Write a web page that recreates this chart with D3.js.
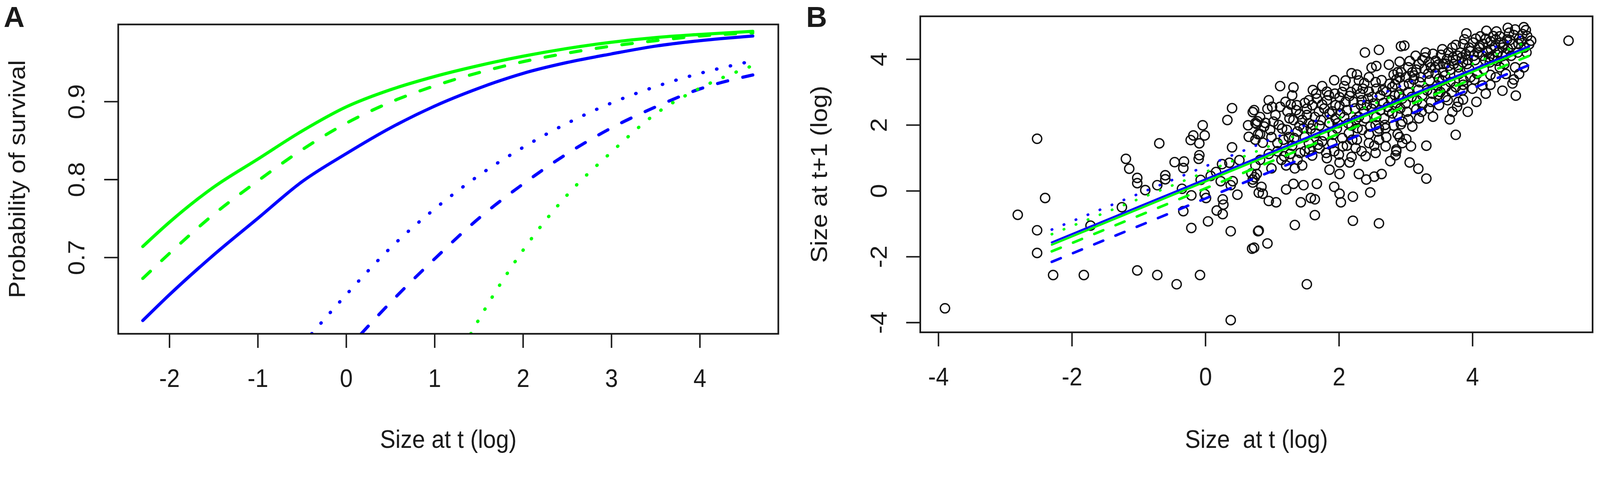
<!DOCTYPE html>
<html>
<head>
<meta charset="utf-8">
<script src="https://cdn.jsdelivr.net/npm/d3@7"></script>
<style>
  html, body { margin: 0; padding: 0; background: #fff; overflow: hidden; }
  svg { display: block; background: #fff; width: 100vw; height: auto; }
  text { font-family: "Liberation Sans", Arial, sans-serif; fill: #1a1a1a; }
</style>
</head>
<body>
<div id="chart"></div>
<script>
(function(){
  'use strict';

  // panel A: probability of survival vs size at t (log)
  var survGreenSolid = [[-2.3,0.714],[-2,0.745],[-1.5,0.790],[-1,0.826],[-0.5,0.862],[0,0.893],[0.5,0.915],[1,0.932],[1.5,0.946],[2,0.958],[2.5,0.968],[3,0.976],[3.5,0.982],[4,0.986],[4.6,0.990]];
  var survGreenDashed = [[-2.3,0.673],[-2,0.705],[-1.5,0.755],[-1,0.798],[-0.5,0.838],[0,0.872],[0.5,0.899],[1,0.920],[1.5,0.937],[2,0.951],[2.5,0.962],[3,0.971],[3.5,0.978],[4,0.984],[4.6,0.988]];
  var survBlueSolid = [[-2.3,0.619],[-2,0.652],[-1.5,0.703],[-1,0.750],[-0.5,0.797],[0,0.833],[0.5,0.866],[1,0.894],[1.5,0.917],[2,0.936],[2.5,0.950],[3,0.961],[3.5,0.971],[4,0.978],[4.6,0.984]];
  var survBlueDotted = [[-0.39,0.602],[0,0.652],[0.5,0.712],[1,0.762],[1.5,0.805],[2,0.841],[2.5,0.872],[3,0.898],[3.5,0.919],[4,0.936],[4.6,0.952]];
  var survBlueDashed = [[0.17,0.602],[0.5,0.642],[1,0.698],[1.5,0.750],[2,0.794],[2.5,0.833],[3,0.866],[3.5,0.893],[4,0.916],[4.6,0.934]];
  var survGreenDotted = [[1.41,0.602],[1.5,0.620],[2,0.709],[2.5,0.780],[3,0.835],[3.5,0.884],[4,0.917],[4.6,0.946]];

  // panel B: fitted growth lines (start, end)
  var growthBlueSolid = [[-2.3,-1.57],[4.85,4.39]];
  var growthGreenSolid = [[-2.3,-1.64],[4.85,4.32]];
  var growthGreenDashed = [[-2.3,-1.84],[4.85,4.10]];
  var growthBlueDashed = [[-2.3,-2.16],[4.85,3.82]];
  var growthBlueDotted = [[-2.3,-1.18],[4.85,4.79]];
  var growthGreenDotted = [[-2.3,-1.32],[4.85,4.55]];

  // panel B: observed size at t vs size at t+1
  var growthPoints = [
    [-3.90,-3.57],[-2.81,-0.73],[-2.52,1.58],[-2.52,-1.20],[-2.52,-1.89],[-2.40,-0.22],[-2.28,-2.56],[-1.82,-2.56],
    [-1.72,-1.06],[-1.02,-2.42],[-0.72,-2.56],[-0.43,-2.84],[-0.08,-2.56],[0.38,-3.93],[1.52,-2.84],[-0.10,0.97],
    [5.44,4.56],[0.74,0.41],[2.85,1.08],
    [0.40,2.51],[0.33,2.15],[0.71,2.39],[0.64,1.99],[0.65,1.64],[0.77,2.03],[0.79,1.72],[-0.04,1.99],[-0.01,1.68],
    [-0.18,1.68],[-0.22,1.54],[-0.09,1.44],[-0.09,1.08],[-0.69,1.44],[-1.19,0.97],[-1.14,0.67],[-1.02,0.39],
    [-1.02,0.23],[-0.90,0.02],[-0.72,0.17],[-0.60,0.47],[-0.60,0.35],[-0.46,0.87],[-0.32,0.89],[-0.33,0.69],
    [-1.25,-0.50],[-0.33,-0.62],[-0.21,-0.14],[-0.21,-1.13],[0.04,-0.93],[0.17,-0.60],[0.26,-0.71],[0.26,-0.26],
    [0.27,-0.42],[0.38,-1.23],[0.48,-0.12],[0.40,1.32],[0.70,-1.76],[0.79,-1.23],[-0.01,-0.10],[0.01,-0.22],
    [0.16,0.57],[0.25,0.81],[0.36,0.85],[0.51,0.93],[0.23,0.29],[0.38,0.17],[0.41,0.29],[0.69,0.53],[0.71,0.25],
    [0.80,-0.06],[-0.07,0.33],[0.08,0.45],[-0.35,0.06],
    [2.39,4.20],[2.60,4.28],[2.93,4.39],[1.12,3.18],[1.32,3.14],[1.61,3.06],
    [0.95,2.75],[0.93,2.49],[0.73,2.45],[0.82,2.24],[0.75,2.06],[0.90,2.06],[0.97,1.85],[0.82,1.72],
    [1.28,2.62],[1.36,2.45],[1.49,2.67],[1.67,2.80],[1.75,3.18],[1.82,3.01],[1.93,3.36],[2.01,2.84],[2.08,3.18],
    [2.19,3.57],[2.27,3.53],[2.38,3.27],[2.49,3.74],[2.56,3.79],[2.75,3.83],[2.82,3.53],[2.91,3.92],
    [1.23,2.41],[1.32,2.15],[1.41,2.32],[1.52,2.49],[1.64,2.24],[1.75,2.62],[1.82,2.75],[1.90,2.41],[2.01,2.58],
    [2.16,2.88],[2.27,3.10],[2.34,2.75],[2.45,3.01],[2.56,3.10],[2.64,3.36],[2.71,3.01],[2.84,3.23],[2.91,3.44],
    [1.15,1.89],[1.25,1.63],[1.17,1.55],[1.30,1.37],[1.41,1.98],[1.49,1.63],[1.58,1.89],[1.71,1.98],[1.78,1.68],
    [1.86,2.06],[1.97,1.89],[2.08,2.24],[2.19,1.98],[2.30,2.24],[2.38,2.41],[2.49,2.49],[2.56,2.24],[2.67,2.67],
    [2.75,2.41],[2.86,2.67],
    [1.27,1.12],[1.38,0.94],[1.49,1.20],[1.60,1.07],[1.71,1.29],[1.82,0.99],[1.93,1.20],[2.01,0.86],[2.12,1.37],
    [2.19,1.03],[2.27,1.55],[2.34,1.20],[2.45,1.72],[2.53,1.37],[2.60,1.89],[2.71,1.63],[2.82,1.98],[2.91,1.63],
    [2.86,1.25],[2.77,0.90],
    [0.71,0.34],[0.84,0.12],[0.86,-0.09],[0.95,-0.31],[1.06,-0.35],[1.21,0.04],[1.32,0.21],[1.47,0.17],[1.67,0.21],
    [1.43,-0.35],[1.58,-0.22],[1.64,-0.26],[1.93,0.12],[2.01,-0.09],[2.03,-0.35],[2.21,-0.18],[2.30,0.51],[2.41,0.34],
    [2.53,0.43],[2.64,0.51],[2.47,-0.05],[1.34,0.68],[1.45,0.77],[1.86,0.64],[2.01,0.51],[2.16,0.86],[1.21,0.77],
    [1.64,-0.74],[1.34,-1.04],[2.21,-0.91],[2.60,-0.99],[0.80,-1.21],[0.93,-1.60],[0.73,-1.73],
    [0.78,2.11],[0.75,1.55],[0.86,1.46],[0.99,1.63],[0.95,1.12],[1.08,1.20],[1.14,0.94],[0.82,0.94],[0.75,0.77],
    [0.99,0.68],[0.77,0.51],
    [2.98,4.41],[3.91,4.78],[4.21,4.86],[4.36,4.84],[4.53,4.95],[4.77,4.97],[4.88,4.56],[4.12,4.69],[4.41,4.69],
    [4.62,4.73],[4.75,4.76],[4.80,4.88],
    [3.75,4.43],[3.86,4.46],[4.01,4.50],[4.16,4.46],[4.27,4.54],[4.34,4.39],[4.47,4.46],[4.56,4.58],[4.69,4.46],
    [3.29,4.05],[3.41,4.16],[3.53,4.13],[3.64,4.20],[3.71,4.05],[3.82,4.20],[3.97,4.24],[4.08,4.20],[4.23,4.20],
    [4.38,4.20],[4.53,4.31],
    [3.06,3.94],[3.25,3.97],[3.04,3.75],[2.93,3.60],[3.16,3.68],[3.38,3.75],[3.49,3.83],[3.60,3.86],[3.75,3.97],
    [3.86,3.90],[3.93,3.97],[4.04,3.97],[4.19,3.97],[4.30,4.09],[4.45,4.09],
    [2.86,3.38],[3.01,3.45],[3.12,3.38],[3.23,3.45],[3.34,3.56],[3.45,3.56],[3.56,3.60],[3.67,3.68],[3.79,3.75],
    [4.64,3.75],[4.77,3.75],[4.41,3.75],[4.27,3.52],[4.03,3.38],[4.62,3.38],[4.60,3.26],[4.45,3.04],[4.65,2.89],
    [4.27,3.22],[4.06,2.70],[3.93,2.40],[3.79,2.70],[3.77,2.55],[3.86,2.77],[3.66,2.17],[3.75,1.70],[3.69,3.00],
    [3.86,3.22],[3.60,3.15],[3.49,2.92],[3.38,2.70],[3.25,2.62],[3.41,2.25],[3.16,2.47],[3.04,2.17],[2.93,2.02],
    [3.01,1.57],[3.08,1.35],[3.31,1.37],[2.86,1.20],[3.06,0.86],[3.19,0.67],[3.31,0.37],[2.88,1.72],[3.19,3.07],
    [3.04,3.00],[2.90,2.92],
    [1.85,2.90],[1.95,2.60],[2.05,3.00],[2.12,2.45],[2.22,2.70],[2.25,2.15],[2.32,2.95],[2.42,2.60],[2.50,2.85],
    [2.55,2.00],[2.62,2.90],[2.68,2.20],[2.78,2.75],[2.80,3.15],[2.88,2.30],[2.95,2.80],[2.05,1.60],[2.15,1.75],
    [2.35,1.85],[2.45,1.45],[2.60,1.55],[2.70,1.90],[2.95,2.10],[1.70,2.40],[1.60,2.60],[1.55,2.05],[1.95,2.20],
    [2.10,3.35],[2.30,3.35],[2.45,3.45],
    [3.10,3.60],[3.20,3.85],[3.30,4.20],[3.45,3.95],[3.55,4.30],[3.62,4.00],[3.70,4.35],[3.78,4.10],[3.88,4.60],
    [3.95,4.35],[4.05,4.62],[4.10,4.35],[4.20,4.62],[4.28,4.30],[4.35,4.60],[4.45,4.35],[4.55,4.80],[4.60,4.45],
    [4.70,4.62],[4.82,4.70],[4.78,4.35],[4.50,4.15],[4.15,4.10],[3.90,4.15],[3.65,3.80],[3.35,3.90],[3.15,4.10],
    [4.25,4.05],[3.95,3.70],[3.50,3.40],
    [1.55,1.45],[1.75,1.50],[1.90,1.45],[2.00,1.10],[2.25,1.30],[2.40,1.05],[2.55,1.15],[2.70,1.35],[2.95,1.45],
    [3.10,1.95],[3.20,2.20],[3.35,2.50],[3.50,2.60],[3.60,2.85],[3.70,2.40],[3.85,3.05],[4.00,3.10],[4.15,3.20],
    [4.20,2.95],[4.35,3.45],[4.50,3.55],[4.70,3.55],[3.55,3.35],[3.25,2.90],[3.00,2.65],
    [1.05,2.30],[1.10,2.00],[1.20,2.70],[1.38,1.80],[1.45,2.15],[1.55,2.75],[1.65,1.75],[1.00,2.55],[0.88,1.95],
    [1.30,2.90],
    [1.02,2.10],[1.08,1.45],[1.12,2.55],[1.18,1.05],[1.22,1.85],[1.26,2.20],[1.33,1.60],[1.37,2.60],[1.42,1.15],
    [1.47,1.90],[1.52,2.30],[1.56,1.25],[1.61,2.00],[1.66,2.95],[1.69,1.40],[1.73,2.15],[1.78,2.50],[1.81,1.15],
    [1.86,2.35],[1.91,1.70],[1.94,2.95],[1.98,2.05],[2.02,2.35],[2.06,1.35],[2.10,2.70],[2.14,2.05],[2.18,3.00],
    [2.20,1.55],[2.24,2.50],[2.28,1.90],[2.33,2.60],[2.36,3.10],[2.40,2.20],[2.44,2.80],[2.47,1.95],[2.52,2.65],
    [2.55,3.30],[2.58,1.80],[2.62,2.45],[2.66,3.05],[2.69,2.00],[2.73,2.55],[2.76,3.25],[2.80,2.35],[2.84,2.90],
    [2.88,3.60],[2.92,2.50],[2.97,3.20],[3.02,2.40],[3.05,3.25],[3.09,2.85],[3.13,3.50],[3.17,2.75],[3.21,3.30],
    [3.24,2.40],[3.28,3.70],[3.32,3.05],[3.36,3.35],[3.40,2.95],[3.44,3.75],[3.47,3.20],[3.52,3.00],[3.56,3.85],
    [3.59,3.50],[3.63,2.75],[3.67,3.30],[3.72,3.85],[3.75,3.15],[3.80,3.55],[3.84,4.05],[3.87,3.35],[3.92,3.85],
    [3.97,3.45],[4.02,4.10],[4.07,3.55],[4.11,4.40],[4.17,3.70],[4.22,4.25],[4.26,3.90],[4.31,4.70],[4.37,3.95],
    [4.42,4.50],[4.48,3.85],[4.52,4.60],[4.58,4.10],[4.64,4.90],[4.68,4.20],[4.74,4.55],[4.81,4.20],[4.85,4.45]
  ];

  // axes
  var ticksAx = [-2, -1, 0, 1, 2, 3, 4],
      ticksAy = [0.7, 0.8, 0.9],
      ticksBx = [-4, -2, 0, 2, 4],
      ticksBy = [-4, -2, 0, 2, 4];

  var W = 4317, H = 1237,
      green = '#00ff00', blue = '#0000ff', ink = '#1a1a1a',
      fontSize = 68, squeeze = 0.92;

  // scale to whatever the viewport is
  var svg = d3.select('#chart').append('svg')
    .attr('viewBox', '0 0 ' + W + ' ' + H)
    .attr('preserveAspectRatio', 'xMinYMin meet');

  // panel A
  var boxA = {left: 319, right: 2100, top: 66, bottom: 901};
  var xA = d3.scaleLinear().domain([-2.578, 4.889]).range([boxA.left, boxA.right]);
  var yA = d3.scaleLinear().domain([0.602, 0.9988]).range([boxA.bottom, boxA.top]);

  // panel B
  var boxB = {left: 2483, right: 4297, top: 44, bottom: 897};
  var xB = d3.scaleLinear().domain([-4.27, 5.80]).range([boxB.left, boxB.right]);
  var yB = d3.scaleLinear().domain([-4.30, 5.30]).range([boxB.bottom, boxB.top]);

  addClip('clipA', boxA);
  addClip('clipB', boxB);

  var lineA = d3.line()
    .x(function(d) { return xA(d[0]); })
    .y(function(d) { return yA(d[1]); })
    .curve(d3.curveMonotoneX);

  var lineB = d3.line()
    .x(function(d) { return xB(d[0]); })
    .y(function(d) { return yB(d[1]); });

  var gA = svg.append('g').attr('clip-path', 'url(#clipA)');
  var seriesA = [
    {d: survBlueDotted, c: blue, dash: '1,37'},
    {d: survBlueDashed, c: blue, dash: '28,42'},
    {d: survGreenDotted, c: green, dash: '1,37'},
    {d: survBlueSolid, c: blue, dash: null},
    {d: survGreenDashed, c: green, dash: '28,42'},
    {d: survGreenSolid, c: green, dash: null}
  ];
  seriesA.forEach(function(s) {
    gA.append('path')
      .attr('d', lineA(s.d))
      .attr('fill', 'none')
      .attr('stroke', s.c)
      .attr('stroke-width', s.dash === '1,37' ? 9 : 8.5)
      .attr('stroke-linecap', 'round')
      .attr('stroke-dasharray', s.dash);
  });

  var gB = svg.append('g').attr('clip-path', 'url(#clipB)');
  gB.selectAll('circle.pt')
    .data(growthPoints)
    .enter()
    .append('circle')
    .attr('class', 'pt')
    .attr('cx', function(d) { return xB(d[0]); })
    .attr('cy', function(d) { return yB(d[1]); })
    .attr('r', 12.5)
    .attr('fill', 'none')
    .attr('stroke', '#111')
    .attr('stroke-width', 3.6);

  var seriesB = [
    {d: growthBlueDotted, c: blue, dash: '1,34'},
    {d: growthGreenDotted, c: green, dash: '1,34'},
    {d: growthBlueDashed, c: blue, dash: '26,36'},
    {d: growthGreenDashed, c: green, dash: '26,36'},
    {d: growthBlueSolid, c: blue, dash: null},
    {d: growthGreenSolid, c: green, dash: null}
  ];
  seriesB.forEach(function(s) {
    gB.append('path')
      .attr('d', lineB(s.d))
      .attr('fill', 'none')
      .attr('stroke', s.c)
      .attr('stroke-width', s.dash ? 7 : 5.5)
      .attr('stroke-linecap', 'round')
      .attr('stroke-dasharray', s.dash);
  });

  addAxes(boxA, xA, yA, ticksAx, ticksAy, 'Size at t (log)', 'Probability of survival', 'A');
  addAxes(boxB, xB, yB, ticksBx, ticksBy, 'Size  at t (log)', 'Size at t+1 (log)', 'B');

  function addClip(id, box) {
    svg.append('clipPath').attr('id', id)
      .append('rect')
      .attr('x', box.left)
      .attr('y', box.top)
      .attr('width', box.right - box.left)
      .attr('height', box.bottom - box.top);
  }

  function addAxes(box, x, y, xt, yt, xTitle, yTitle, tag) {
    var fmt = function(d) { return String(d); };

    svg.append('rect')
      .attr('x', box.left)
      .attr('y', box.top)
      .attr('width', box.right - box.left)
      .attr('height', box.bottom - box.top)
      .attr('fill', 'none')
      .attr('stroke', ink)
      .attr('stroke-width', 4.5);

    var gx = svg.append('g')
      .attr('transform', 'translate(0,' + box.bottom + ')')
      .call(d3.axisBottom(x).tickValues(xt).tickSize(38).tickFormat(fmt));
    gx.select('.domain').remove();
    gx.selectAll('line').attr('stroke', ink).attr('stroke-width', 4);
    gx.selectAll('text')
      .attr('y', 0).attr('dy', null)
      .attr('transform', 'translate(0,143) scale(' + squeeze + ',1)')
      .attr('font-size', fontSize)
      .attr('font-family', null)
      .attr('fill', ink);

    var gy = svg.append('g')
      .attr('transform', 'translate(' + box.left + ',0)')
      .call(d3.axisLeft(y).tickValues(yt).tickSize(38).tickFormat(fmt));
    gy.select('.domain').remove();
    gy.selectAll('line').attr('stroke', ink).attr('stroke-width', 4);
    gy.selectAll('text')
      .attr('x', 0).attr('dy', null)
      .attr('text-anchor', 'middle')
      .attr('transform', 'translate(-91,0) scale(' + squeeze + ',1) rotate(-90)')
      .attr('font-size', fontSize)
      .attr('font-family', null)
      .attr('fill', ink);

    svg.append('text')
      .attr('transform', 'translate(' + ((box.left + box.right) / 2) + ',1209) scale(' + squeeze + ',1)')
      .attr('text-anchor', 'middle')
      .attr('font-size', fontSize)
      .style('white-space', 'pre')
      .text(xTitle);

    svg.append('text')
      .attr('transform', 'translate(' + (box.left - 252) + ',' + ((box.top + box.bottom) / 2) + ') scale(' + squeeze + ',1) rotate(-90)')
      .attr('text-anchor', 'middle')
      .attr('font-size', fontSize)
      .text(yTitle);

    svg.append('text')
      .attr('x', tag === 'A' ? 10 : 2175)
      .attr('y', 73)
      .attr('font-size', 78)
      .attr('font-weight', 'bold')
      .attr('fill', '#000')
      .text(tag);
  }

}());
</script>
</body>
</html>
